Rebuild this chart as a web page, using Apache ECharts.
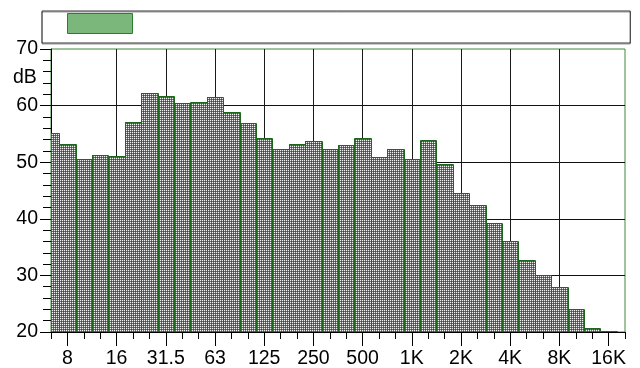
<!DOCTYPE html>
<html>
<head>
<meta charset="utf-8">
<script src="https://cdn.jsdelivr.net/npm/echarts@6/dist/echarts.min.js"></script>
<style>html,body{margin:0;padding:0;background:#fff;}#c{width:640px;height:368px;}</style>
</head>
<body>
<div id="c"></div>
<script>
// 1/3-octave band centres (Hz), 6.3 Hz .. 20 kHz
var bands = ['6.3','8','10','12.5','16','20','25','31.5','40','50','63','80','100','125','160','200','250','315','400','500','630','800','1K','1.25K','1.6K','2K','2.5K','3.15K','4K','5K','6.3K','8K','10K','12.5K','16K','20K'];
// level per band (dB)
var levels = [55.1,53.2,50.5,51.2,51.1,57.1,62.3,61.7,60.4,60.6,61.6,58.9,56.9,54.2,52.3,53.3,53.8,52.3,53.0,54.2,50.9,52.4,50.6,54.0,49.7,44.5,42.4,39.3,36.1,32.8,30.1,28.0,24.1,20.7,20.1,20.0];
// octave tick labels
var tickLabels = ['8','16','31.5','63','125','250','500','1K','2K','4K','8K','16K'];
var yTicks = [20,30,40,50,60,70];

var Y_MIN = 20, Y_MAX = 70;

function makePattern(light, mid, dark) {
  var cv = document.createElement('canvas');
  cv.width = 2; cv.height = 2;
  var ctx = cv.getContext('2d');
  ctx.fillStyle = mid; ctx.fillRect(0,0,2,2);
  ctx.fillStyle = light; ctx.fillRect(0,0,1,1);
  ctx.fillStyle = dark; ctx.fillRect(1,1,1,1);
  return cv;
}
var grayPat = { image: makePattern('#f0f0f0', '#6e6e6e', '#464646'), repeat: 'repeat' };
var greenPat = { image: makePattern('#d8f0d8', '#6cb06c', '#3f8f3f'), repeat: 'repeat' };

var tickPos = tickLabels.map(function(_, k){ return bands.indexOf(tickLabels[k]); });
var barData = levels.map(function(v, i){ return [i, v]; });
var font = 'Liberation Sans, Arial, sans-serif';

// integer-pixel geometry of a bar, clipped to the grid
function barGeom(params, api) {
  var i = api.value(0), v = api.value(1);
  var p0 = api.coord([i - 0.5, v]);
  var p1 = api.coord([i + 0.5, Y_MIN]);
  var cs = params.coordSys;
  var L = Math.round(Math.max(p0[0], cs.x));
  var R = Math.round(Math.min(p1[0], cs.x + cs.width));
  var T = Math.round(Math.max(p0[1], cs.y));
  var B = Math.round(Math.min(p1[1], cs.y + cs.height));
  if (R <= L || B <= T) return null;
  return { L: L, R: R, T: T, B: B, leftIn: p0[0] >= cs.x - 0.5, rightIn: p1[0] <= cs.x + cs.width + 0.5 };
}
function renderFill(params, api) {
  var g = barGeom(params, api);
  if (!g) return null;
  return { type: 'rect', shape: { x: g.L, y: g.T, width: g.R - g.L, height: g.B - g.T }, style: { fill: grayPat, stroke: null } };
}
function renderEdge(params, api) {
  var g = barGeom(params, api);
  if (!g) return null;
  var pts = [];
  if (g.leftIn) pts.push([g.L + 0.5, g.B]);
  pts.push([g.L + 0.5, g.T + 0.5]);
  pts.push([g.R + 0.5, g.T + 0.5]);
  if (g.rightIn) pts.push([g.R + 0.5, g.B]);
  return { type: 'polyline', shape: { points: pts }, style: { fill: null, stroke: '#1e661e', lineWidth: 1 } };
}

var chart = echarts.init(document.getElementById('c'), null, {renderer:'canvas'});
chart.setOption({
  animation: false,
  title: { text: 'dB', left: 13, top: 68, padding: 0,
    textStyle: { fontFamily: font, fontSize: 19.5, fontWeight: 'normal', color: '#000' } },
  legend: {
    show: true, left: 42, top: 11,
    padding: [2, 490, 9, 25],
    itemWidth: 65, itemHeight: 20, itemGap: 0,
    borderColor: '#333', borderWidth: 1,
    shadowColor: 'rgba(0,0,0,0.4)', shadowOffsetY: 1, shadowBlur: 0,
    textStyle: { fontSize: 10, color: '#000' },
    itemStyle: { color: greenPat, borderColor: '#2e7d32', borderWidth: 1 },
    data: [{ name: ' ', icon: 'rect' }]
  },
  grid: { left: 51, right: 15, top: 49, bottom: 36, show: true, borderColor: '#3d8a3d', borderWidth: 1, containLabel: false, outerBoundsMode: 'none' },
  xAxis: [{
    type: 'value', min: 0, max: 35, position: 'bottom',
    axisLine: { show: true, onZero: false, lineStyle: { color: '#000', width: 1 } },
    axisTick: { show: true, customValues: tickPos, length: 14, lineStyle: { color: '#000' } },
    axisLabel: { show: true, customValues: tickPos, margin: 17, color: '#000', fontFamily: font, fontSize: 19.5,
      formatter: function(v){ var k = tickPos.indexOf(Math.round(v)); return k >= 0 ? tickLabels[k] : ''; } },
    splitLine: { show: true, showMinLine: false, showMaxLine: false, lineStyle: { color: '#1a1a1a', width: 1 } }
  }, {
    type: 'value', min: 0, max: 35, interval: 1, position: 'bottom',
    axisLine: { show: false, onZero: false },
    axisTick: { show: true, length: 7, lineStyle: { color: '#000' } },
    axisLabel: { show: false },
    splitLine: { show: false }
  }],
  yAxis: {
    type: 'value', min: Y_MIN, max: Y_MAX, interval: 10,
    axisLine: { show: true, onZero: false, lineStyle: { color: '#000', width: 1 } },
    axisTick: { show: true, length: 11, lineStyle: { color: '#000' } },
    minorTick: { show: true, splitNumber: 5, length: 8, lineStyle: { color: '#000' } },
    axisLabel: { margin: 13, color: '#000', fontFamily: font, fontSize: 19.5, padding: [5,0,0,0],
      formatter: function(v){ return yTicks.indexOf(v) >= 0 ? String(v) : ''; } },
    splitLine: { show: true, showMinLine: false, showMaxLine: false, lineStyle: { color: '#111', width: 1 } }
  },
  series: [{
    name: ' ', type: 'custom', xAxisIndex: 0, data: barData,
    encode: { x: 0, y: 1 },
    itemStyle: { color: '#8a8a8a' },
    renderItem: renderFill
  }, {
    name: 'edges', type: 'custom', xAxisIndex: 0, data: barData,
    encode: { x: 0, y: 1 },
    itemStyle: { color: '#1e661e' },
    renderItem: renderEdge
  }]
});
</script>
</body>
</html>
